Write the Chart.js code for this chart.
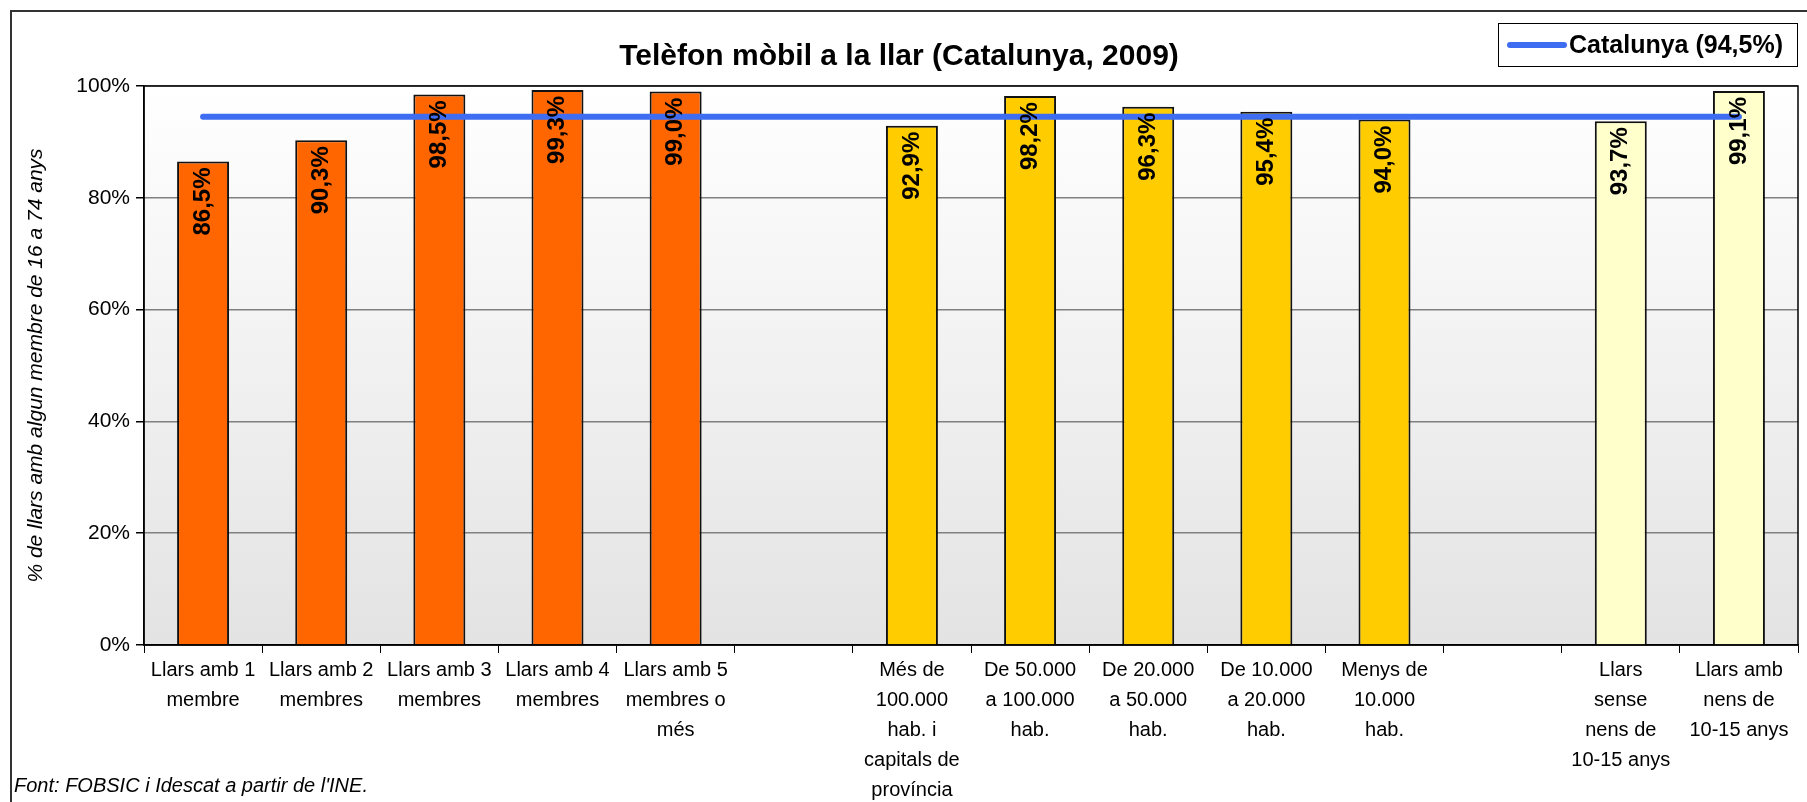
<!DOCTYPE html>
<html>
<head>
<meta charset="utf-8">
<script src="https://cdn.jsdelivr.net/npm/chart.js@4/dist/chart.umd.min.js"></script>
<style>
    body { margin: 0; background: #fff; }
    #wrap { width: 1807px; height: 802px; }
</style>
</head>
<body>
<div id="wrap"><canvas id="grafico" width="1807" height="802"></canvas></div>
<script>
// DADES
const categories = [
    ["Llars amb 1", "membre"],
    ["Llars amb 2", "membres"],
    ["Llars amb 3", "membres"],
    ["Llars amb 4", "membres"],
    ["Llars amb 5", "membres o", "més"],
    "",
    ["Més de", "100.000", "hab. i", "capitals de", "província"],
    ["De 50.000", "a 100.000", "hab."],
    ["De 20.000", "a 50.000", "hab."],
    ["De 10.000", "a 20.000", "hab."],
    ["Menys de", "10.000", "hab."],
    "",
    ["Llars", "sense", "nens de", "10-15 anys"],
    ["Llars amb", "nens de", "10-15 anys"]
];
const valors = [86.5, 90.3, 98.5, 99.3, 99.0, null, 92.9, 98.2, 96.3, 95.4, 94.0, null, 93.7, 99.1];
const colorsBarres = ["#FF6600", "#FF6600", "#FF6600", "#FF6600", "#FF6600", "#FF6600",
    "#FFCC00", "#FFCC00", "#FFCC00", "#FFCC00", "#FFCC00", "#FFCC00",
    "#FFFFCC", "#FFFFCC"];
const catalunya = [94.5, 94.5, 94.5, 94.5, 94.5, 94.5, 94.5, 94.5, 94.5, 94.5, 94.5, 94.5, 94.5, 94.5];
const etiquetaCatalunya = "Catalunya (94,5%)";
const ticksY = [0, 20, 40, 60, 80, 100];

const FONT = "'Liberation Sans', Arial, sans-serif";

// PLUGINS
const fonsPlot = {
    id: 'fonsPlot',
    beforeDraw(chart) {
        const ctx = chart.ctx;
        const a = chart.chartArea;
        ctx.save();
        ctx.fillStyle = '#fff';
        ctx.fillRect(0, 0, chart.width, chart.height);
        const g = ctx.createLinearGradient(0, a.top, 0, a.bottom);
        g.addColorStop(0, '#ffffff');
        g.addColorStop(1, '#e3e3e3');
        ctx.fillStyle = g;
        ctx.fillRect(a.left, a.top, a.right - a.left, a.bottom - a.top);
        ctx.restore();
    },
    beforeDatasetsDraw(chart) {
        const ctx = chart.ctx;
        const a = chart.chartArea;
        ctx.save();
        ctx.strokeStyle = '#000';
        ctx.lineWidth = 1.5;
        ctx.strokeRect(a.left, a.top, a.right - a.left, a.bottom - a.top);
        ctx.restore();
    }
};

const etiquetes = {
    id: 'etiquetes',
    afterDraw(chart) {
        const ctx = chart.ctx;
        const meta = chart.getDatasetMeta(1);
        ctx.save();
        ctx.font = 'bold 24px ' + FONT;
        ctx.fillStyle = '#000';
        ctx.textAlign = 'right';
        ctx.textBaseline = 'middle';
        meta.data.forEach(function (bar, i) {
            const v = valors[i];
            if (v === null) return;
            ctx.save();
            ctx.translate(bar.x, bar.y + 6);
            ctx.rotate(-Math.PI / 2);
            ctx.fillText(v.toFixed(1).replace('.', ',') + '%', 0, 0);
            ctx.restore();
        });

        // llegenda
        const ds = chart.data.datasets[0];
        ctx.fillStyle = '#fff';
        ctx.fillRect(1498, 23, 300, 44);
        ctx.strokeStyle = '#000';
        ctx.lineWidth = 1;
        ctx.strokeRect(1498.5, 23.5, 299, 43);
        ctx.strokeStyle = ds.borderColor;
        ctx.lineWidth = 6;
        ctx.lineCap = 'round';
        ctx.beginPath();
        ctx.moveTo(1510, 45);
        ctx.lineTo(1564, 45);
        ctx.stroke();
        ctx.fillStyle = '#000';
        ctx.font = 'bold 25px ' + FONT;
        ctx.textAlign = 'left';
        ctx.fillText(ds.label, 1569, 46);

        // marc i font
        ctx.strokeStyle = '#333';
        ctx.lineWidth = 2;
        ctx.strokeRect(11, 11, chart.width + 20, chart.height + 20);
        ctx.font = 'italic 20px ' + FONT;
        ctx.fillText("Font: FOBSIC i Idescat a partir de l'INE.", 14, 786);
        ctx.restore();
    }
};

// GRAFIC
const ctx = document.getElementById('grafico').getContext('2d');
new Chart(ctx, {
    data: {
        labels: categories,
        datasets: [{
            type: 'line',
            label: etiquetaCatalunya,
            data: catalunya,
            borderColor: '#3f6df2',
            borderWidth: 6,
            borderCapStyle: 'round',
            pointRadius: 0,
            fill: false,
            order: 0
        }, {
            type: 'bar',
            label: 'Llars',
            data: valors,
            backgroundColor: colorsBarres,
            borderColor: '#111',
            borderWidth: 2,
            barPercentage: 0.44,
            categoryPercentage: 1,
            order: 1
        }]
    },
    options: {
        responsive: false,
        animation: false,
        layout: { padding: { left: 0, right: 9, top: 0, bottom: 0 } },
        plugins: {
            legend: { display: false },
            tooltip: { enabled: false },
            title: {
                display: true,
                text: 'Telèfon mòbil a la llar (Catalunya, 2009)',
                color: '#000',
                font: { family: FONT, size: 30, weight: 'bold' },
                padding: { top: 39, bottom: 11 }
            }
        },
        scales: {
            x: {
                offset: true,
                grid: { display: true, drawOnChartArea: false, offset: true, tickLength: 8, color: '#000', lineWidth: 1 },
                border: { color: '#000', width: 1.5 },
                ticks: {
                    autoSkip: false,
                    maxRotation: 0,
                    minRotation: 0,
                    padding: 2,
                    color: '#000',
                    font: { family: FONT, size: 20, lineHeight: 1.5 }
                },
                afterFit(scale) { scale.height = 157; }
            },
            y: {
                min: 0,
                max: 100,
                afterBuildTicks(scale) { scale.ticks = ticksY.map(v => ({ value: v })); },
                grid: { color: '#808080', lineWidth: 1.5, tickLength: 8, tickColor: '#000' },
                border: { color: '#000', width: 1.5 },
                ticks: {
                    padding: 6,
                    color: '#000',
                    font: { family: FONT, size: 21 },
                    callback: v => v + '%'
                },
                title: {
                    display: true,
                    text: '% de llars amb algun membre de 16 a 74 anys',
                    color: '#000',
                    font: { family: FONT, size: 21, style: 'italic' },
                    padding: { top: 24, bottom: 0 }
                },
                afterFit(scale) { scale.width = 144; }
            }
        }
    },
    plugins: [fonsPlot, etiquetes]
});
</script>
</body>
</html>
